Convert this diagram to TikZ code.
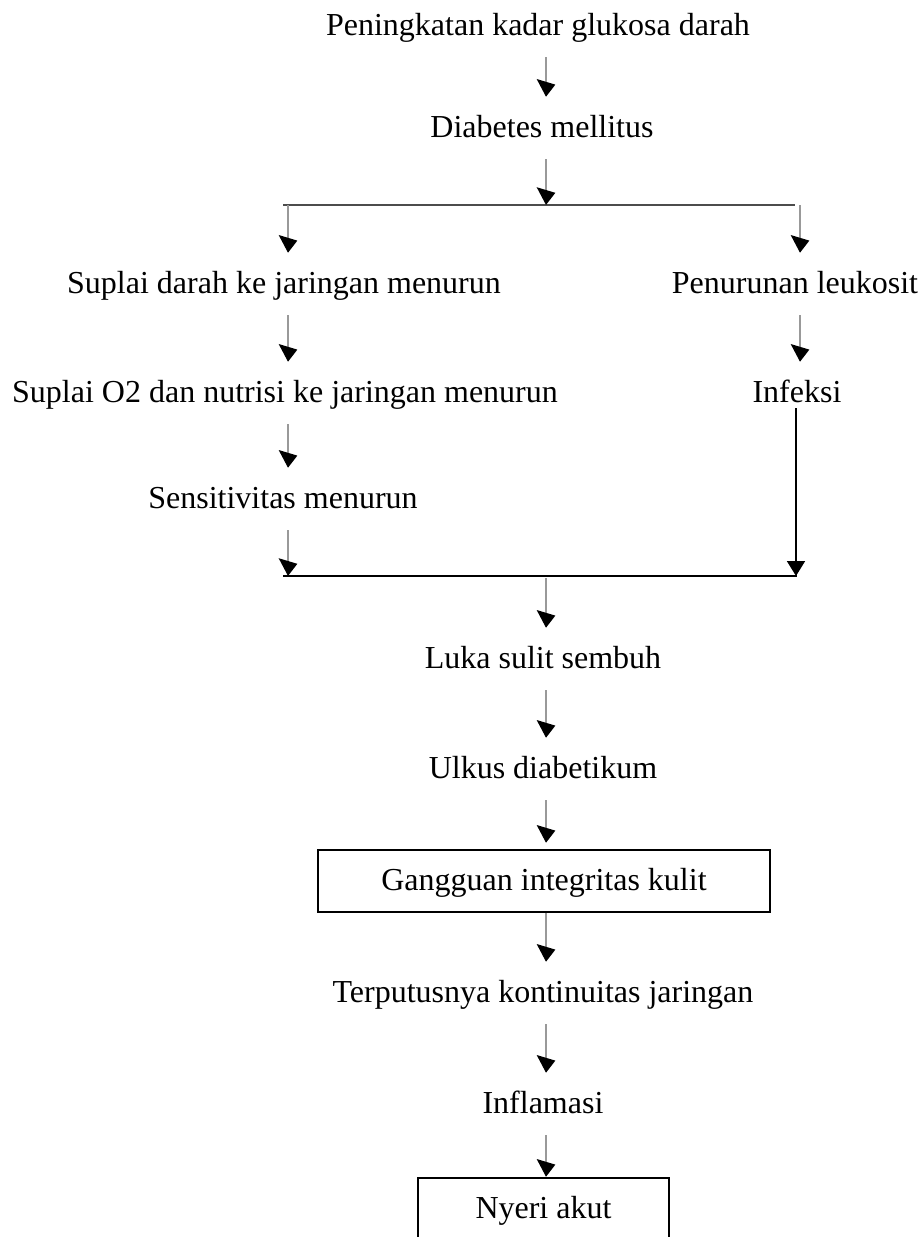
\documentclass[tikz,border=0pt]{standalone}
\usepackage{fontspec}
\setmainfont{Liberation Serif}
\usetikzlibrary{arrows.meta,calc}
\begin{document}
\begin{tikzpicture}[x=1pt,y=-1pt,
  lbl/.style={font=\fontsize{32}{37}\selectfont, inner xsep=0pt, inner ysep=18pt,
    text height=22pt, text depth=4pt, anchor=base},
  boxed/.style={lbl, draw=black, line width=2.4pt, inner xsep=0pt},
  arr/.style={draw=black!40, line width=2.6pt,
    -{Triangle[width=18pt,length=15pt,color=black,slant=0.3]}},
  flow/.style={draw=black!70, line width=1.5pt},
  flowb/.style={draw=black, line width=1.8pt},
  arrb/.style={draw=black, line width=1.8pt,
    -{Triangle[width=18pt,length=15pt,color=black]}}]
\useasboundingbox (0,0) rectangle (923,1237);
\fill[white] (0,0) rectangle (923,1237);

% column coordinates
\coordinate (cC) at (546,0);
\coordinate (cL) at (288,0);
\coordinate (cR) at (800,0);
\coordinate (cRi) at (796,0);

% nodes
\node[lbl] (title) at (538,35) {Peningkatan kadar glukosa darah};
\node[lbl] (dm) at (542,137) {Diabetes mellitus};
\node[lbl] (sd) at (284,293) {Suplai darah ke jaringan menurun};
\node[lbl] (pl) at (795,293) {Penurunan leukosit};
\node[lbl] (so) at (285,402) {Suplai O2 dan nutrisi ke jaringan menurun};
\node[lbl] (inf) at (797,402) {Infeksi};
\node[lbl] (sens) at (283,508) {Sensitivitas menurun};
\node[lbl] (luka) at (543,668) {Luka sulit sembuh};
\node[lbl] (ulk) at (543,778) {Ulkus diabetikum};
\node[boxed, minimum width=452pt] (gik) at (544,890) {Gangguan integritas kulit};
\node[lbl] (tkj) at (543,1002) {Terputusnya kontinuitas jaringan};
\node[lbl] (infl) at (543,1113) {Inflamasi};
\node[boxed, minimum width=251pt, text depth=48pt] (nyeri) at (543.5,1218) {Nyeri akut};

% split line
\coordinate (s0) at (546,205);
\coordinate (sl) at (283,205);
\coordinate (sr) at (795,205);
\coordinate (slx) at (288,205);
\coordinate (srx) at (800,205);
\draw[flow] (sl) -- (sr);

% join line
\coordinate (jl) at (283,576);
\coordinate (jr) at (797,576);
\coordinate (jlx) at (288,576);
\coordinate (jrx) at (796,576);
\coordinate (jc) at (546,578);
\draw[flowb] (jl) -- (jr);

% arrows
\draw[arr] (cC |- title.south) -- (cC |- dm.north);
\draw[arr] (cC |- dm.south) -- (s0);
\draw[arr] (slx) -- (cL |- sd.north);
\draw[arr] (srx) -- (cR |- pl.north);
\draw[arr] (cL |- sd.south) -- (cL |- so.north);
\draw[arr] (cR |- pl.south) -- (cR |- inf.north);
\draw[arr] (cL |- so.south) -- (cL |- sens.north);
\draw[arr] (cL |- sens.south) -- (jlx);
\draw[arrb] ([yshift=-6pt]cRi |- inf.base) -- (jrx);
\draw[arr] (jc) -- (cC |- luka.north);
\draw[arr] (cC |- luka.south) -- (cC |- ulk.north);
\draw[arr] (cC |- ulk.south) -- ([yshift=6pt]cC |- gik.north);
\draw[arr] (cC |- gik.south) -- (cC |- tkj.north);
\draw[arr] (cC |- tkj.south) -- (cC |- infl.north);
\draw[arr] (cC |- infl.south) -- (cC |- nyeri.north);
\end{tikzpicture}
\end{document}
